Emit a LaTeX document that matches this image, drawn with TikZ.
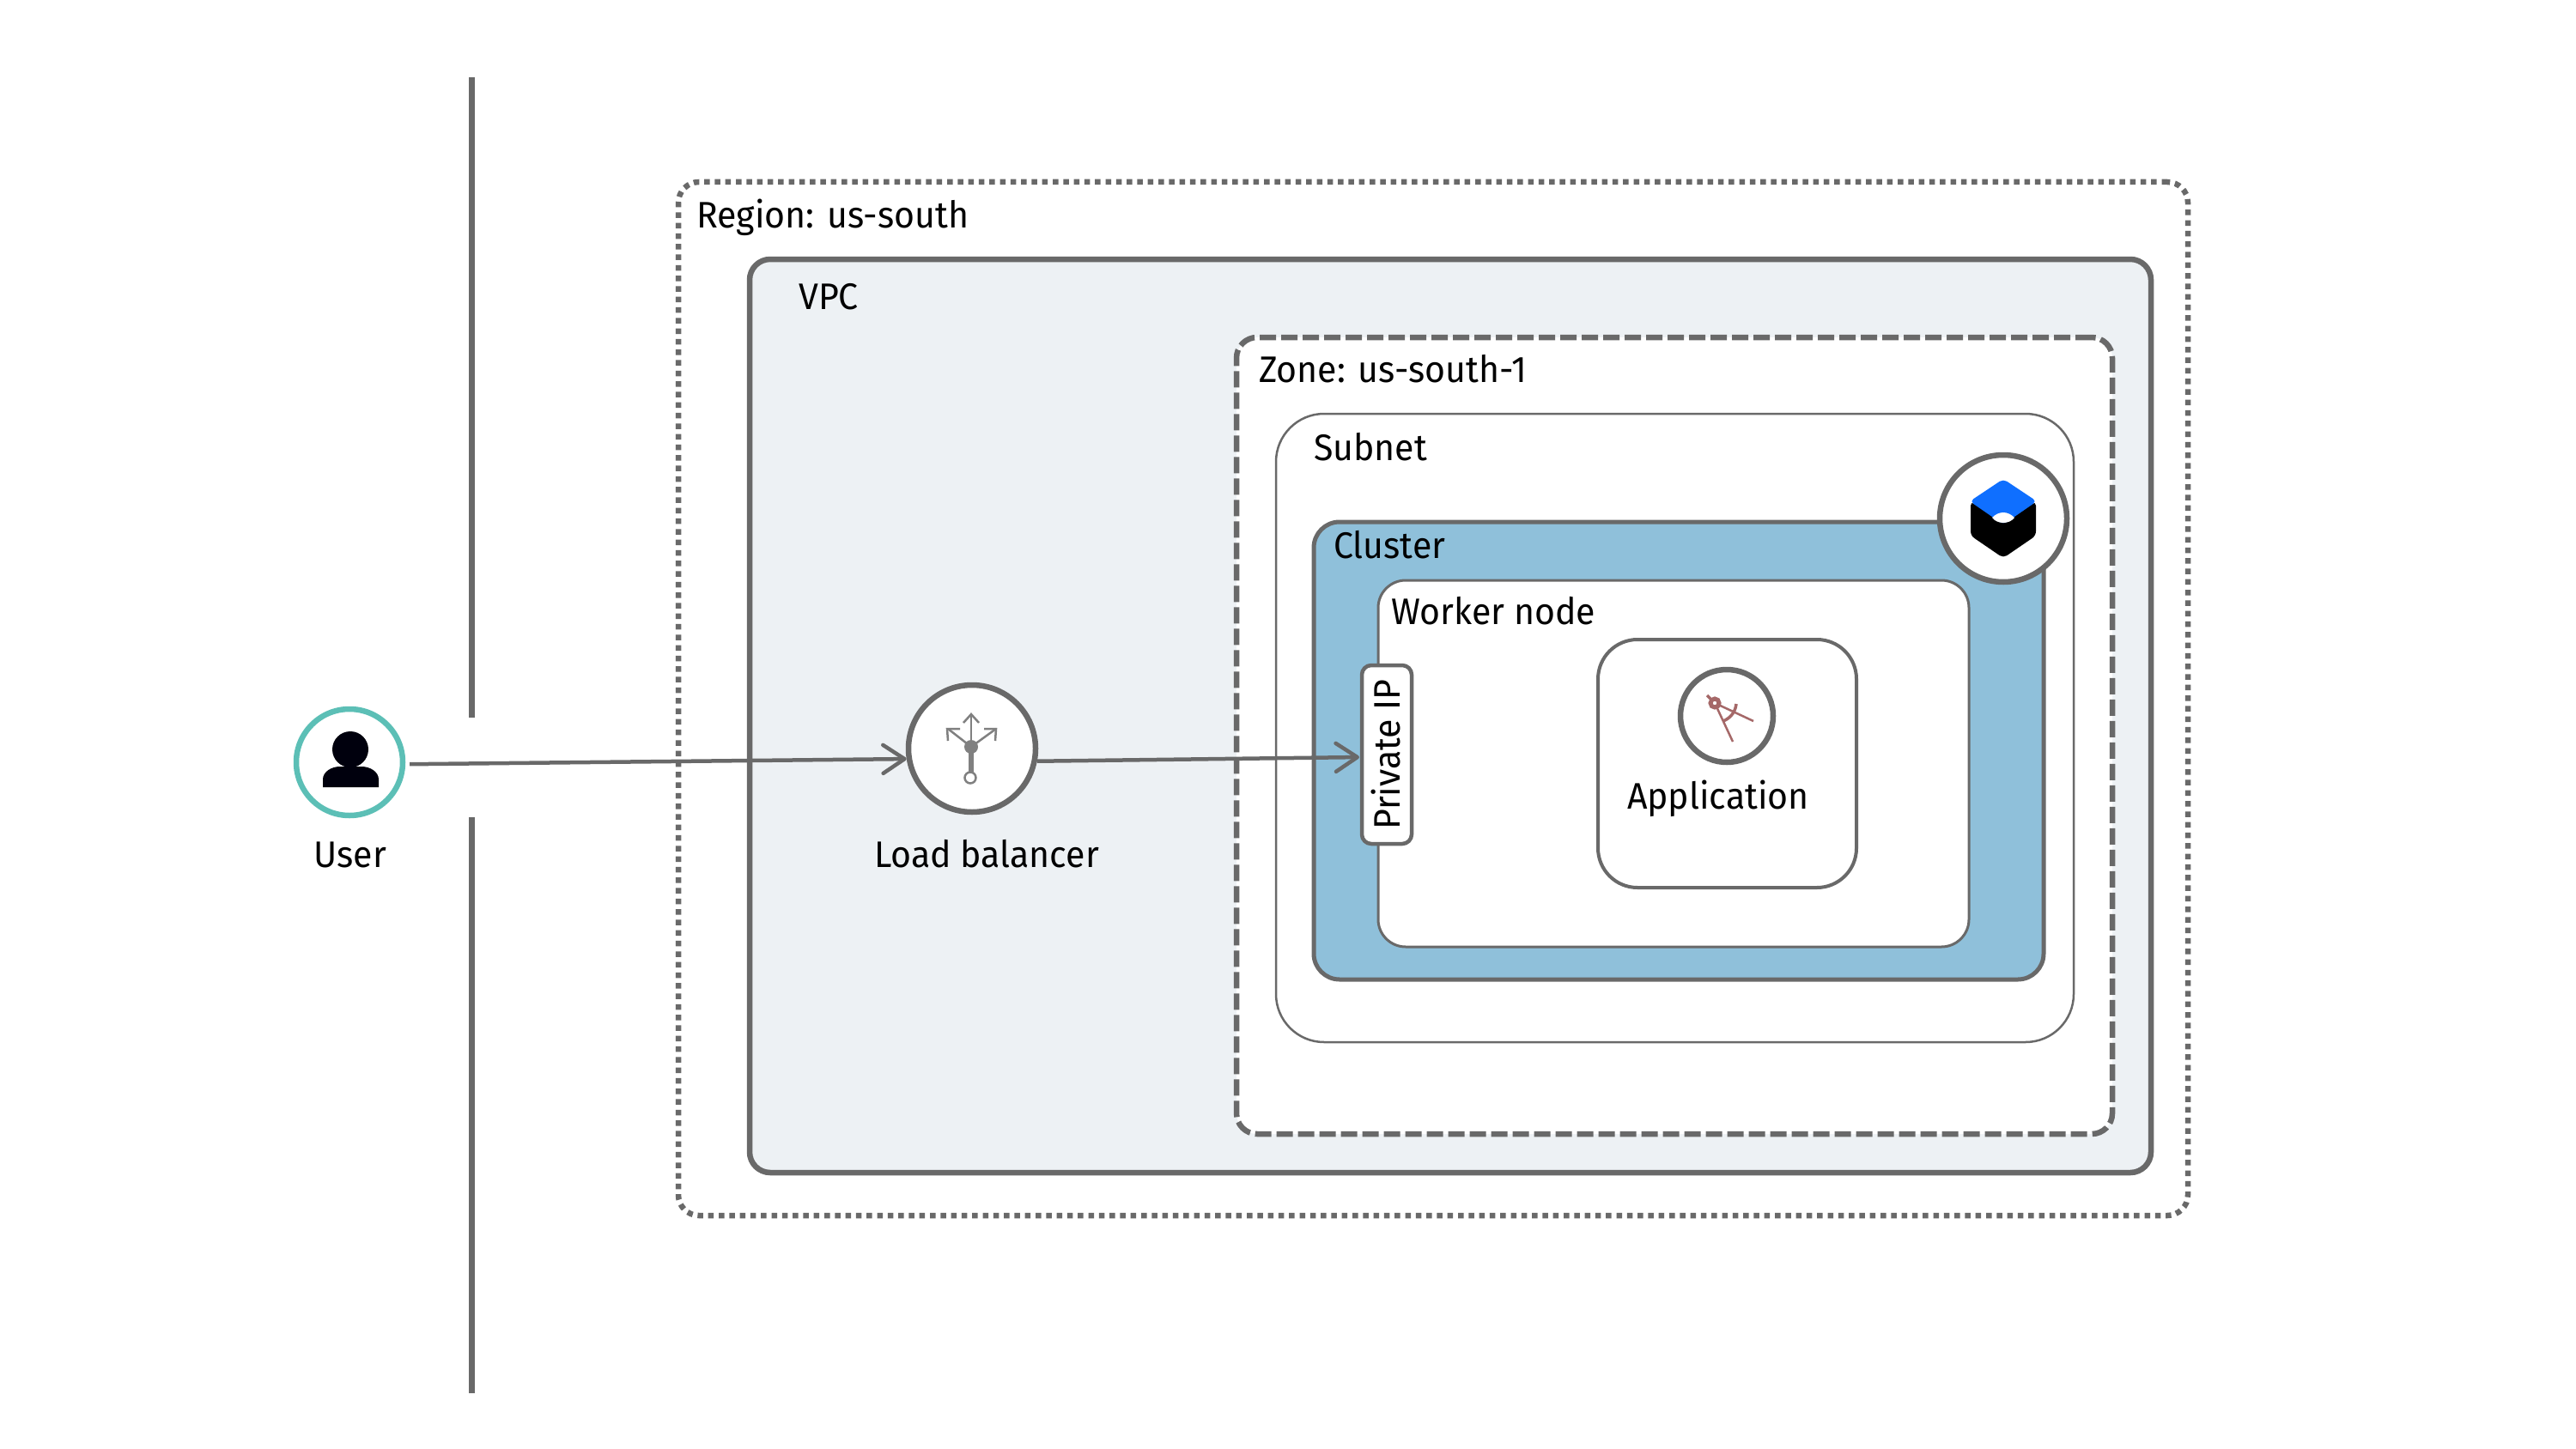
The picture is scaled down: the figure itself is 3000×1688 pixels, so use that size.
\documentclass[tikz,border=0pt]{standalone}
\usepackage{fontspec}
\setmainfont{Fira Sans}[FakeStretch=0.955]
\usetikzlibrary{arrows.meta}
\definecolor{linegray}{HTML}{696969}
\definecolor{vpcfill}{HTML}{EDF1F4}
\definecolor{clusterfill}{HTML}{8FC0DA}
\definecolor{userteal}{HTML}{5CBFB6}
\definecolor{cubeblue}{HTML}{0F6FFF}
\definecolor{appred}{HTML}{A56868}
\tikzset{
  box/.style={draw=linegray, anchor=north west, inner sep=0pt, outer sep=0pt},
  caption/.style={inner sep=0pt, font=\fontsize{43}{50}\selectfont},
  badge/.style={circle, draw=linegray, fill=white, line width=6.5pt, inner sep=0pt},
  flow/.style={draw=linegray, line width=4.5pt, -{Straight Barb[length=25pt,width=33pt,line width=4.5pt,round]}},
}

\begin{document}
\begin{tikzpicture}[x=1pt,y=-1pt]
    \path[use as bounding box] (0, 0) rectangle (3000, 1688);

    % internet boundary
    \coordinate (walltop) at (549, 90);
    \coordinate (wallgapa) at (549, 836);
    \coordinate (wallgapb) at (549, 952);
    \coordinate (wallend) at (549, 1623);
    \draw[linegray, line width=7pt] (walltop) -- (wallgapa);
    \draw[linegray, line width=7pt] (wallgapb) -- (wallend);

    % nested boxes
    \node[box, line width=6.5pt, rounded corners=24pt, dash pattern=on 6.5pt off 5.8pt, minimum width=1758pt, minimum height=1204pt] at (790, 212) (region) {};
    \node[box, line width=6.5pt, rounded corners=24pt, fill=vpcfill, minimum width=1632pt, minimum height=1064pt] at (873, 302) (vpc) {};
    \node[box, line width=6.5pt, rounded corners=24pt, fill=white, dash pattern=on 19pt off 6pt, minimum width=1020pt, minimum height=928pt] at (1440, 393) (zone) {};
    \node[box, line width=2.5pt, rounded corners=56pt, fill=white, minimum width=929pt, minimum height=732pt] at (1486, 482) (subnet) {};
    \node[box, line width=5pt, rounded corners=30pt, fill=clusterfill, minimum width=850pt, minimum height=533pt] at (1530, 608) (cluster) {};
    \node[box, line width=3pt, rounded corners=32pt, fill=white, minimum width=688pt, minimum height=427pt] at (1605, 676) (worker) {};
    \node[box, line width=4pt, rounded corners=46pt, fill=white, minimum width=301pt, minimum height=289pt] at (1861, 745) (app) {};
    \node[draw=linegray, line width=4.5pt, rounded corners=11pt, fill=white, rotate=90, inner sep=0pt, outer sep=0pt, minimum width=208pt, minimum height=58pt, font=\fontsize{43}{50}\selectfont] at (1615, 879) (privateip) {\raisebox{3pt}{Private IP}};

    \node[caption, anchor=base west] at (811, 266) (regionlabel) {Region: us-south};
    \node[caption, anchor=base west] at (930, 360) (vpclabel) {VPC};
    \node[caption, anchor=base west] at (1466, 445) (zonelabel) {Zone: us-south-1};
    \node[caption, anchor=base west] at (1530, 536) (subnetlabel) {Subnet};
    \node[caption, anchor=base west] at (1553, 650) (clusterlabel) {Cluster};
    \node[caption, anchor=base west] at (1620, 727) (workerlabel) {Worker node};
    \node[caption, anchor=base] at (2001, 942) (applabel) {Application};
    \node[caption, anchor=base] at (1149, 1010) (lblabel) {Load balancer};
    \node[caption, anchor=base] at (408, 1010) (userlabel) {User};

    % round icons
    \node[badge, minimum size=148pt] at (2333, 604) (cube) {};
    \node[badge, minimum size=148pt] at (1132, 872) (lb) {};
    \node[badge, minimum size=108pt] at (2011, 834) (appicon) {};
    \node[badge, draw=userteal, minimum size=124pt] at (407, 888) (user) {};

    % cube
    \fill[black, rounded corners=5pt] (2295, 584) -- (2333, 606) -- (2371, 584) -- (2371, 624) -- (2333, 650) -- (2295, 624) -- cycle;
    \fill[cubeblue, rounded corners=5pt] (2333, 558) -- (2372, 584) -- (2333, 611) -- (2294, 584) -- cycle;
    \fill[white] (2320, 603) .. controls (2328, 595) and (2338, 595) .. (2346, 603) .. controls (2340, 611) and (2326, 611) .. cycle;

    % person
    \fill[black!95!blue] (408, 873) circle[radius=21pt];
    \fill[black!95!blue] (376, 917) -- (376, 908) .. controls (376, 899) and (386, 893) .. (396, 893) -- (421, 893) .. controls (431, 893) and (441, 899) .. (441, 908) -- (441, 917) -- cycle;

    % load balancer glyph
    \draw[linegray!85, line width=2.5pt] (1131, 870) -- (1131, 833);
    \draw[linegray!85, line width=2.5pt] (1122, 842) -- (1131, 832) -- (1140, 842);
    \draw[linegray!85, line width=2.5pt] (1131, 870) -- (1104, 849);
    \draw[linegray!85, line width=2.5pt] (1104, 863) -- (1103, 849) -- (1118, 849);
    \draw[linegray!85, line width=2.5pt] (1131, 870) -- (1160, 849);
    \draw[linegray!85, line width=2.5pt] (1146, 849) -- (1160, 849) -- (1159, 863);
    \draw[linegray!85, line width=6pt] (1131, 870) -- (1131, 900);
    \fill[linegray!85] (1131, 870) circle[radius=8pt];
    \draw[linegray!85, fill=white, line width=2.5pt] (1130, 906) circle[radius=6.5pt];

    % compass glyph
    \draw[appred, line width=2.5pt] (1997, 819) -- (2018, 864);
    \draw[appred, line width=2.5pt] (1997, 819) -- (2042, 840);
    \draw[appred, line width=3.5pt] (2022, 820) .. controls (2021, 829) and (2016, 836) .. (2007, 840);
    \draw[appred, line width=3.5pt] (1988, 810) -- (1997, 819);
    \draw[appred, line width=5pt, fill=white] (1997, 819) circle[radius=5pt];

    % connectors
    \draw[flow, shorten <=5pt] (user.-2) -- (lb.189);
    \draw[flow, shorten >=3pt] (lb.-11) -- ([yshift=-3pt]privateip.north);
\end{tikzpicture}
\end{document}
